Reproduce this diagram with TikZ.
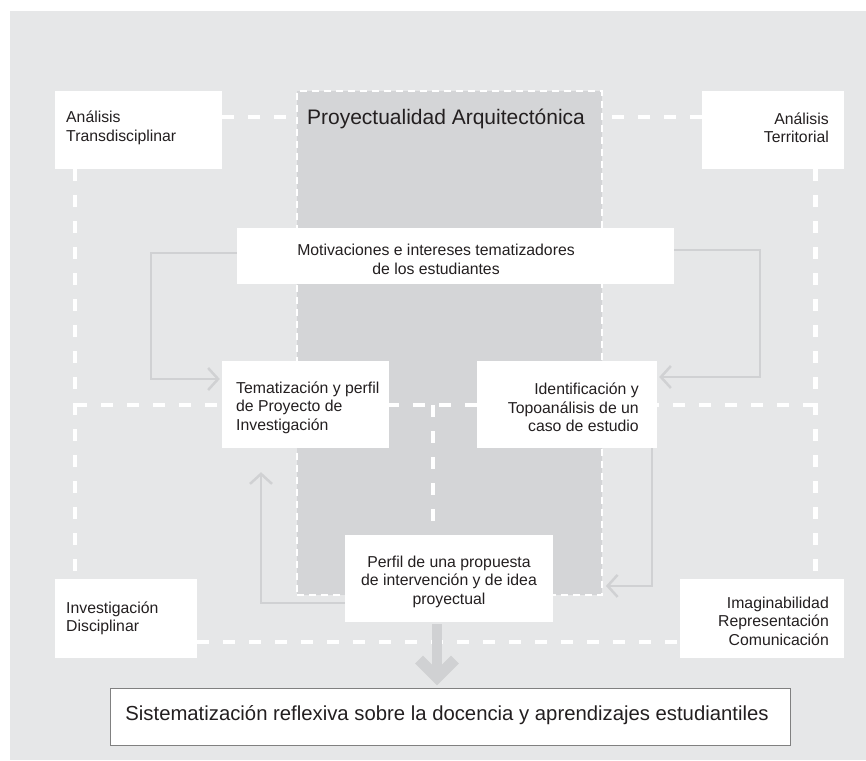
\documentclass[tikz,border=0pt]{standalone}
\usepackage{fontspec}
\setmainfont{Liberation Sans}
\usetikzlibrary{arrows.meta,calc}
\definecolor{bgc}{HTML}{E6E7E8}
\definecolor{projc}{HTML}{D4D5D7}
\definecolor{arrc}{HTML}{D0D1D3}
\definecolor{txtc}{HTML}{231F20}
\definecolor{sisc}{HTML}{808080}
\begin{document}
\begin{tikzpicture}[x=1pt,y=-1pt,
  wbox/.style={fill=white, draw=none, inner sep=0pt},
  txt/.style={inner sep=0pt, text=txtc, font=\fontsize{15.8}{18.5}\selectfont},
  wdash/.style={draw=white, line width=4.5pt, dash pattern=on 12pt off 14pt},
  flow/.style={draw=arrc, line width=2.5pt, -{Straight Barb[length=10pt,width=22pt]}},
  projbox/.style={fill=projc, draw=white, line width=1.8pt, dash pattern=on 7pt off 5pt, inner sep=0pt}
]
\useasboundingbox (0,0) rectangle (866,760);
\fill[white] (0,0) rectangle (866,760);
\fill[bgc] (10,11) rectangle (866,760);

% corner boxes
\node[wbox, minimum width=167pt, minimum height=78pt] (tl) at (138.5,130) {};
\node[wbox, minimum width=142pt, minimum height=78pt] (tr) at (773,130) {};
\node[wbox, minimum width=142pt, minimum height=79pt] (bl) at (126,618.5) {};
\node[wbox, minimum width=164pt, minimum height=79pt] (br) at (762,618.5) {};

% top dashed line (behind the central block)
\draw[wdash] ([yshift=13pt]tl.east) -- ([yshift=13pt]tr.west);

% central block
\node[projbox, minimum width=305pt, minimum height=504pt] (proj) at (449.5,343) {};
\node[txt, anchor=base, font=\fontsize{21}{25}\selectfont] (title) at (446,124) {Proyectualidad Arquitectónica};

% inner boxes (positions)
\node[wbox, minimum width=437pt, minimum height=56pt] (mot) at (455.5,256) {};
\node[wbox, minimum width=167pt, minimum height=87pt] (tem) at (305.5,404.5) {};
\node[wbox, minimum width=180pt, minimum height=87pt] (ide) at (567,404.5) {};
\node[wbox, minimum width=208pt, minimum height=87pt] (per) at (449,578.5) {};

% dashed frame lines
\coordinate (hl) at (75,405);
\coordinate (hr) at (815.5,405);
\coordinate (hc) at (433,405);
\draw[wdash] ([xshift=-63.5pt]tl.south) -- ([xshift=-51pt]bl.north);
\draw[wdash] ([xshift=42.5pt]tr.south) -- ([xshift=53.5pt]br.north);
\draw[wdash] (hl) -- (hr);
\draw[wdash] (hc) -- ([xshift=-16pt]per.north);
\draw[wdash] ([yshift=-23.5pt]bl.east) -- ([yshift=-23.5pt]br.west);

% redraw white boxes over lines
\node[wbox, minimum width=437pt, minimum height=56pt] at (mot) {};
\node[wbox, minimum width=167pt, minimum height=87pt] at (tem) {};
\node[wbox, minimum width=180pt, minimum height=87pt] at (ide) {};
\node[wbox, minimum width=208pt, minimum height=87pt] at (per) {};
\node[wbox, minimum width=167pt, minimum height=78pt] at (tl) {};
\node[wbox, minimum width=142pt, minimum height=78pt] at (tr) {};
\node[wbox, minimum width=142pt, minimum height=79pt] at (bl) {};
\node[wbox, minimum width=164pt, minimum height=79pt] at (br) {};

% texts
\node[txt, anchor=west, align=left] (tlT) at (66,128) {Análisis\\Transdisciplinar};
\node[txt, anchor=east, align=right] (trT) at (829,128) {Análisis\\Territorial};
\node[txt, anchor=west, align=left] (blT) at (66,618.5) {Investigación\\Disciplinar};
\node[txt, anchor=east, align=right] (brT) at (829,621) {Imaginabilidad\\Representación\\Comunicación};
\node[txt, align=center] (motT) at (436,259.5) {Motivaciones e intereses tematizadores\\de los estudiantes};
\node[txt, anchor=west, align=left] (temT) at (236,407.5) {Tematización y perfil\\de Proyecto de\\Investigación};
\node[txt, anchor=east, align=right] (ideT) at (639,407.5) {Identificación y\\Topoanálisis de un\\caso de estudio};
\node[txt, align=center] (perT) at (449,581.5) {Perfil de una propuesta\\de intervención y de idea\\proyectual};

% bottom box
\node[fill=white, draw=sisc, line width=1pt, minimum width=680pt, minimum height=57pt, inner sep=0pt] (sis) at (450,716.5) {};
\node[txt, anchor=base, font=\fontsize{20.3}{24}\selectfont] (sisT) at (447,720) {Sistematización reflexiva sobre la docencia y aprendizajes estudiantiles};

% grey flow arrows
\draw[flow] ([yshift=3pt]mot.west) -- ++(-86,0) |- ([xshift=-2pt,yshift=25.5pt]tem.west);
\draw[flow] ([yshift=6pt]mot.east) -- ++(86,0) |- ([xshift=2pt,yshift=27.5pt]ide.east);
\draw[flow] ([xshift=85pt]ide.south) |- ([xshift=3pt,yshift=10pt]proj.south east);
\draw[flow] ([yshift=-24.5pt]per.west) -| ([xshift=-44.5pt,yshift=-24pt]tem.south);

% thick down arrow
\coordinate (tipA) at ([xshift=-13pt,yshift=10pt]sis.north);
\draw[arrc, line width=10.5pt] ([xshift=-12pt,yshift=-2pt]per.south) -- ([yshift=6pt]tipA);
\draw[arrc, line width=11pt, miter limit=10] ($(tipA)+(-18,-18)$) -- (tipA) -- ($(tipA)+(18,-18)$);
\end{tikzpicture}
\end{document}
